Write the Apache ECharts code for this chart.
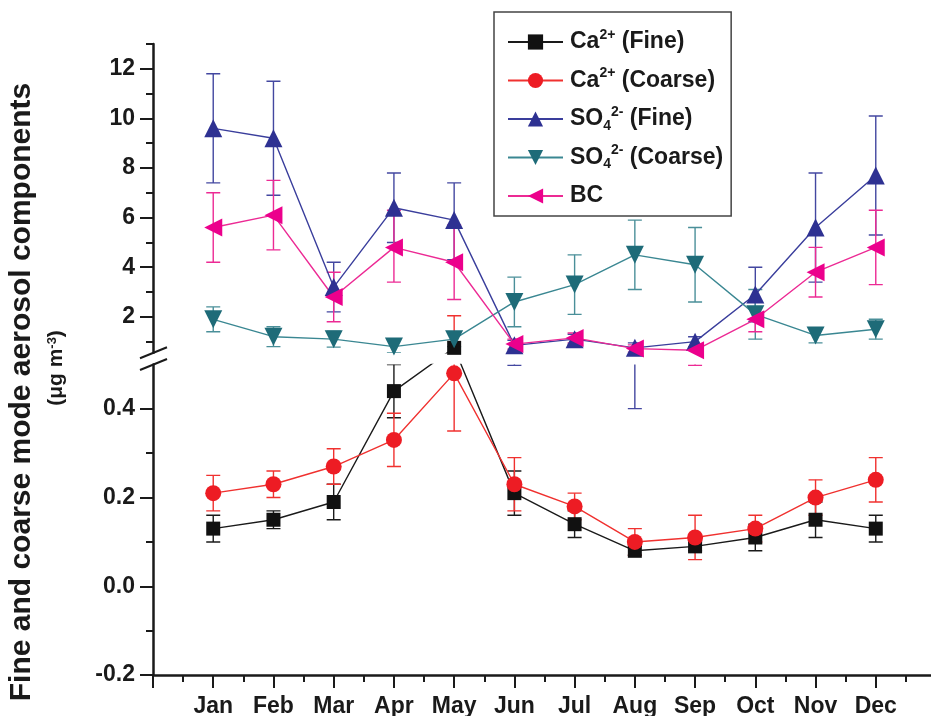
<!DOCTYPE html>
<html>
<head>
<meta charset="utf-8">
<script src="https://cdn.jsdelivr.net/npm/echarts@6/dist/echarts.min.js"></script>
<style>
  html, body { margin: 0; padding: 0; background: #fff; }
  #main { width: 931px; height: 716px; }
</style>
</head>
<body>
<div id="main"></div>
<script type="text/javascript">
    // ---- data ----
    var months = ['Jan', 'Feb', 'Mar', 'Apr', 'May', 'Jun', 'Jul', 'Aug', 'Sep', 'Oct', 'Nov', 'Dec'];

    var caFine      = [0.13, 0.15, 0.19, 0.44, 0.75, 0.21, 0.14, 0.08, 0.09, 0.11, 0.15, 0.13];
    var caFineErr   = [0.03, 0.02, 0.04, 0.06, 0, 0.05, 0.03, 0.01, 0.01, 0.03, 0.04, 0.03];

    var caCoarse    = [0.21, 0.23, 0.27, 0.33, 0.48, 0.23, 0.18, 0.10, 0.11, 0.13, 0.20, 0.24];
    var caCoarseErr = [0.04, 0.03, 0.04, 0.06, 0.13, 0.06, 0.03, 0.03, 0.05, 0.03, 0.04, 0.05];

    var so4Fine      = [9.6, 9.2, 3.2, 6.4, 5.9, 0.85, 1.1, 0.75, 1.0, 2.9, 5.6, 7.7];
    var so4FineErrLo = [2.2, 2.3, 1.0, 1.4, 1.6, 0.8, 0.2, 2.45, 0.2, 1.1, 2.2, 2.4];
    var so4FineErrHi = [2.2, 2.3, 1.0, 1.4, 1.5, 0.2, 0.2, 0.2, 0.2, 1.1, 2.2, 2.4];

    var so4Coarse    = [1.9, 1.2, 1.1, 0.8, 1.1, 2.6, 3.3, 4.5, 4.1, 2.1, 1.25, 1.5];
    var so4CoarseErr = [0.5, 0.4, 0.32, 0.25, 0.3, 1.0, 1.2, 1.4, 1.5, 1.0, 0.3, 0.4];

    var bc      = [5.6, 6.1, 2.8, 4.8, 4.2, 0.9, 1.15, 0.72, 0.65, 1.9, 3.8, 4.8];
    var bcErrLo = [1.4, 1.4, 1.0, 1.4, 1.5, 0.2, 0.2, 0.15, 0.6, 0.5, 1.0, 1.5];
    var bcErrHi = [1.4, 1.4, 1.0, 1.5, 1.5, 0.2, 0.2, 0.15, 0.15, 0.45, 1.0, 1.5];

    var upperTicks = [2, 4, 6, 8, 10, 12];
    var upperMinor = [1, 3, 5, 7, 9, 11, 13];
    var lowerTicks = [-0.2, 0, 0.2, 0.4];
    var lowerMinor = [-0.1, 0.1, 0.3];

    // ---- broken y axis layout ----
    var GRID_LEFT = 153;
    var UP_TOP = 44, UP_BOTTOM = 352.8, LOW_TOP = 364.5, LOW_BOTTOM = 675;
    var UP_MIN = 0.55, UP_MAX = 13, LOW_MIN = -0.2, LOW_MAX = 0.5;
    var BREAK = 0.5;
    var upScale = (UP_BOTTOM - UP_TOP) / (UP_MAX - UP_MIN);
    var lowScale = (LOW_BOTTOM - LOW_TOP) / (LOW_MAX - LOW_MIN);

    function pxOf(v, seg) {
        return seg === 'up' ? UP_TOP + (UP_MAX - v) * upScale : LOW_BOTTOM - (v - LOW_MIN) * lowScale;
    }
    function upVal(px) { return UP_MAX - (px - UP_TOP) / upScale; }
    function lowVal(px) { return LOW_MIN + (LOW_BOTTOM - px) / lowScale; }
    function segOf(v) { return v > BREAK ? 'up' : 'low'; }

    var FONT = "'Liberation Sans', Arial, Helvetica, sans-serif";
    var INK = '#1a1a1a';

    function makeSeries(name, vals, errLo, errHi, color, lineColor, errColor, symbol, size, rotate) {
        var out = [];
        [0, 1].forEach(function (g) {
            var conv = g === 0 ? upVal : lowVal;
            var pts = vals.map(function (v, i) {
                return [i + 1, conv(pxOf(v, segOf(v)))];
            });
            var bars = vals.map(function (v, i) {
                var s = segOf(v);
                return [i + 1, conv(pxOf(v - errLo[i], s)), conv(pxOf(v + errHi[i], s))];
            });
            out.push({
                type: 'custom',
                name: name + ' error',
                xAxisIndex: g,
                yAxisIndex: g * 2,
                clip: true,
                z: 1,
                silent: true,
                data: bars,
                encode: {x: 0, y: [1, 2]},
                renderItem: function (params, api) {
                    var x = api.value(0);
                    var lo = api.coord([x, api.value(1)]);
                    var hi = api.coord([x, api.value(2)]);
                    if (Math.abs(lo[1] - hi[1]) < 0.5) return null;
                    var st = {stroke: errColor, lineWidth: 1.4};
                    return {
                        type: 'group',
                        children: [
                            {type: 'line', shape: {x1: lo[0], y1: lo[1], x2: hi[0], y2: hi[1]}, style: st},
                            {type: 'line', shape: {x1: lo[0] - 7, y1: lo[1], x2: lo[0] + 7, y2: lo[1]}, style: st},
                            {type: 'line', shape: {x1: hi[0] - 7, y1: hi[1], x2: hi[0] + 7, y2: hi[1]}, style: st}
                        ]
                    };
                }
            });
            out.push({
                type: 'line',
                name: name,
                xAxisIndex: g,
                yAxisIndex: g * 2,
                z: 2,
                clip: true,
                data: pts,
                symbol: symbol,
                symbolSize: size,
                symbolRotate: rotate,
                showAllSymbol: true,
                lineStyle: {color: lineColor, width: 1.4},
                itemStyle: {color: color},
                emphasis: {disabled: true}
            });
        });
        return out;
    }

    var names = ['Ca2+ (Fine)', 'Ca2+ (Coarse)', 'SO42- (Fine)', 'SO42- (Coarse)', 'BC'];
    var richNames = {
        'Ca2+ (Fine)': 'Ca{sup|2+} (Fine)',
        'Ca2+ (Coarse)': 'Ca{sup|2+} (Coarse)',
        'SO42- (Fine)': 'SO{sub|4}{sup|2-} (Fine)',
        'SO42- (Coarse)': 'SO{sub|4}{sup|2-} (Coarse)',
        'BC': 'BC'
    };

    var series = [].concat(
        makeSeries(names[0], caFine, caFineErr, caFineErr, '#111111', '#1a1a1a', '#1a1a1a', 'rect', 14, 0),
        makeSeries(names[1], caCoarse, caCoarseErr, caCoarseErr, '#ED1C24', '#F0312F', '#F0312F', 'circle', 16, 0),
        makeSeries(names[2], so4Fine, so4FineErrLo, so4FineErrHi, '#2E3192', '#3A3E9C', '#4347A0', 'triangle', 18, 0),
        makeSeries(names[3], so4Coarse, so4CoarseErr, so4CoarseErr, '#1E6B78', '#3A8792', '#4A8F99', 'triangle', 18, 180),
        makeSeries(names[4], bc, bcErrLo, bcErrHi, '#EC008C', '#EC2A94', '#EC2A94', 'triangle', 18, 90)
    );

    function yAxisBase(grid, min, max, ticks, tickLen, showLine, showLabel) {
        return {
            type: 'value',
            gridIndex: grid,
            position: 'left',
            min: min,
            max: max,
            axisLine: {show: showLine, onZero: false, lineStyle: {color: INK, width: 2.5}},
            axisTick: {show: true, customValues: ticks, length: tickLen, lineStyle: {color: INK, width: 2}},
            axisLabel: {
                show: showLabel,
                customValues: ticks,
                margin: 18,
                color: INK,
                fontSize: 23,
                fontWeight: 'bold',
                fontFamily: FONT,
                formatter: function (v) {
                    return grid === 0 ? String(Math.round(v)) : v.toFixed(1);
                }
            },
            splitLine: {show: false}
        };
    }

    var chart = echarts.init(document.getElementById('main'));
    chart.setOption({
        animation: false,
        backgroundColor: '#fff',
        grid: [
            {left: GRID_LEFT, right: -5, top: UP_TOP, height: UP_BOTTOM - UP_TOP, outerBoundsMode: 'none'},
            {left: GRID_LEFT, right: -5, top: LOW_TOP, height: LOW_BOTTOM - LOW_TOP, outerBoundsMode: 'none'}
        ],
        xAxis: [
            {type: 'value', gridIndex: 0, min: 0, max: 13, interval: 1, show: false},
            {
                type: 'value', gridIndex: 1, min: 0, max: 13, interval: 1,
                axisLine: {onZero: false, lineStyle: {color: INK, width: 2.5}},
                axisTick: {length: 13, lineStyle: {color: INK, width: 2}},
                minorTick: {show: true, splitNumber: 2, length: 7, lineStyle: {color: INK, width: 2}},
                axisLabel: {
                    margin: 20,
                    color: INK,
                    fontSize: 23,
                    fontWeight: 'bold',
                    fontFamily: FONT,
                    showMinLabel: false,
                    showMaxLabel: false,
                    formatter: function (v) {
                        return (v >= 1 && v <= 12) ? months[v - 1] : '';
                    }
                },
                splitLine: {show: false},
                minorSplitLine: {show: false}
            }
        ],
        yAxis: [
            yAxisBase(0, UP_MIN, UP_MAX, upperTicks, 13, true, true),
            yAxisBase(0, UP_MIN, UP_MAX, upperMinor, 7, false, false),
            yAxisBase(1, LOW_MIN, LOW_MAX, lowerTicks, 13, true, true),
            yAxisBase(1, LOW_MIN, LOW_MAX, lowerMinor, 7, false, false)
        ],
        legend: {
            data: names,
            orient: 'vertical',
            left: 494,
            top: 12,
            padding: [16, 8, 6, 13],
            itemWidth: 55,
            itemHeight: 19,
            itemGap: 10.5,
            selectedMode: false,
            borderColor: '#444',
            borderWidth: 1.5,
            backgroundColor: '#fff',
            formatter: function (name) { return richNames[name]; },
            textStyle: {
                color: INK,
                fontSize: 23,
                fontWeight: 'bold',
                fontFamily: FONT,
                lineHeight: 28,
                padding: [0, 0, 0, 2],
                rich: {
                    sup: {fontSize: 14, fontWeight: 'bold', fontFamily: FONT, color: INK, lineHeight: 14, verticalAlign: 'top'},
                    sub: {fontSize: 14, fontWeight: 'bold', fontFamily: FONT, color: INK, lineHeight: 14, verticalAlign: 'bottom'}
                }
            }
        },
        graphic: [
            {
                type: 'text', x: 22, y: 392, rotation: Math.PI / 2, silent: true,
                style: {
                    text: 'Fine and coarse mode aerosol components',
                    fill: INK, font: 'bold 30px ' + FONT,
                    align: 'center', verticalAlign: 'middle'
                }
            },
            {
                type: 'text', x: 56, y: 368, rotation: Math.PI / 2, silent: true,
                style: {
                    text: '(\u03bcg m{sup|-3})',
                    fill: INK, font: 'bold 21px ' + FONT,
                    align: 'center', verticalAlign: 'middle',
                    rich: {sup: {font: 'bold 13px ' + FONT, fill: INK, lineHeight: 13, verticalAlign: 'top'}}
                }
            },
            {
                type: 'line', silent: true,
                shape: {x1: GRID_LEFT - 13, y1: UP_BOTTOM + 5.5, x2: GRID_LEFT + 14, y2: UP_BOTTOM - 5.5},
                style: {stroke: INK, lineWidth: 2}
            },
            {
                type: 'line', silent: true,
                shape: {x1: GRID_LEFT - 13, y1: LOW_TOP + 5.5, x2: GRID_LEFT + 14, y2: LOW_TOP - 5.5},
                style: {stroke: INK, lineWidth: 2}
            }
        ],
        series: series
    });

    window.onresize = function () {
        chart.resize();
    };
</script>
</body>
</html>
